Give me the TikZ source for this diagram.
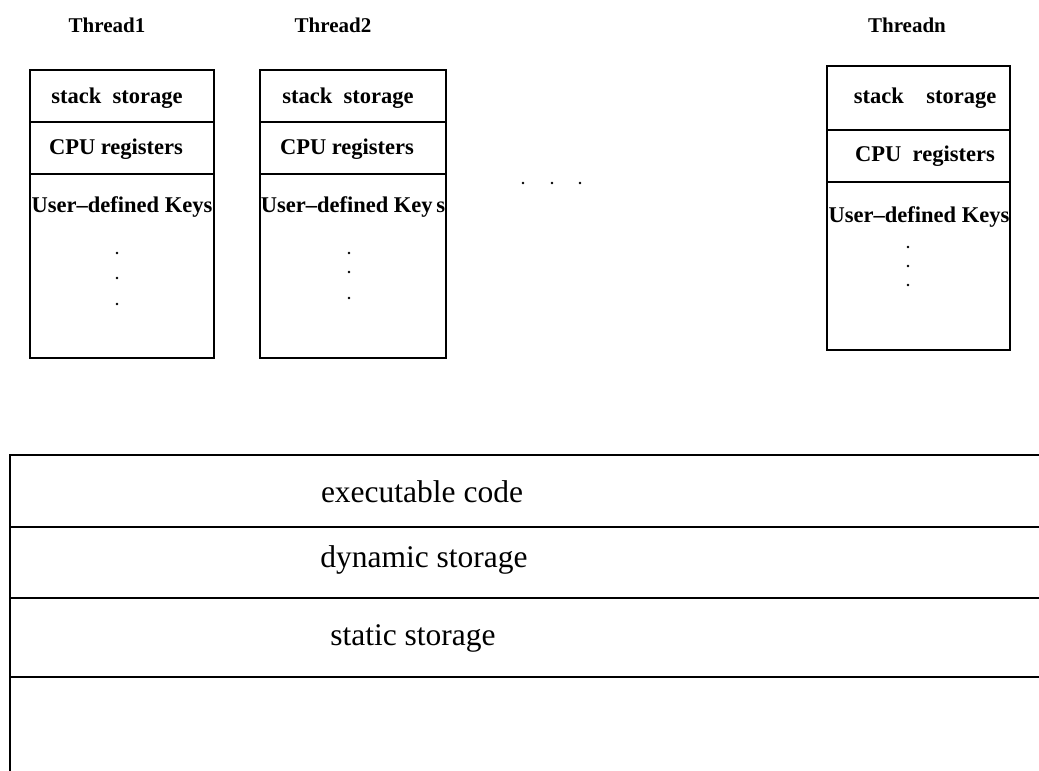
\documentclass[tikz,border=0pt]{standalone}
\usepackage{fontspec}
\setmainfont{Liberation Serif}
\begin{document}
\begin{tikzpicture}[x=1pt,y=-1pt,
  box/.style={draw,line width=1.3pt},
  seg/.style={line width=2pt},
  small/.style={inner sep=0pt,font=\fontsize{22.5}{26}\selectfont\bfseries},
  lbl/.style={inner sep=0pt,font=\fontsize{21}{24}\selectfont\bfseries},
  big/.style={inner sep=0pt,font=\fontsize{31.5}{36}\selectfont},
  dotm/.style={circle,fill,inner sep=0pt,minimum size=2.8pt}]
\useasboundingbox (0,0) rectangle (1039,771);
% Thread labels
\node[lbl] (l1) at (107,25) {Thread1};
\node[lbl] (l2) at (333,25) {Thread2};
\node[lbl] (ln) at (907,25) {Threadn};
% Thread 1
\draw[box] (30,70) rectangle (214,358);
\draw[box] (30,122) -- (214,122);
\draw[box] (30,174) -- (214,174);
\node[small] (s1) at (117,98) {stack\ \ storage};
\node[small] (c1) at (116,149) {CPU registers};
\node[small] (u1) at (122,207) {User–defined Keys};
\node[dotm] (d11) at (117,253) {};
\node[dotm] (d12) at (117,278) {};
\node[dotm] (d13) at (117,304) {};
% Thread 2
\draw[box] (260,70) rectangle (446,358);
\draw[box] (260,122) -- (446,122);
\draw[box] (260,174) -- (446,174);
\node[small] (s2) at (348,98) {stack\ \ storage};
\node[small] (c2) at (347,149) {CPU registers};
\node[small] (u2) at (353,207) {User–defined Key\,s};
\node[dotm] (d21) at (349,253) {};
\node[dotm] (d22) at (349,272) {};
\node[dotm] (d23) at (349,298) {};
% middle dots
\node[dotm] (m1) at (523,183) {};
\node[dotm] (m2) at (552,183) {};
\node[dotm] (m3) at (580,183) {};
% Thread n
\draw[box] (827,66) rectangle (1010,350);
\draw[box] (827,130) -- (1010,130);
\draw[box] (827,182) -- (1010,182);
\node[small] (sn) at (925,98) {stack\ \ \ \ storage};
\node[small] (cn) at (925,156) {CPU\ \ registers};
\node[small] (un) at (919,217) {User–defined Keys};
\node[dotm] (dn1) at (908,247) {};
\node[dotm] (dn2) at (908,266) {};
\node[dotm] (dn3) at (908,285) {};
% bottom memory area
\draw[seg] (1039,455) -- (10,455) -- (10,771);
\draw[seg] (10,527) -- (1039,527);
\draw[seg] (10,598) -- (1039,598);
\draw[seg] (10,677) -- (1039,677);
\node[big] (ex) at (422,492) {executable code};
\node[big] (dy) at (424,560) {dynamic storage};
\node[big] (st) at (413,638) {static storage};
\end{tikzpicture}
\end{document}
